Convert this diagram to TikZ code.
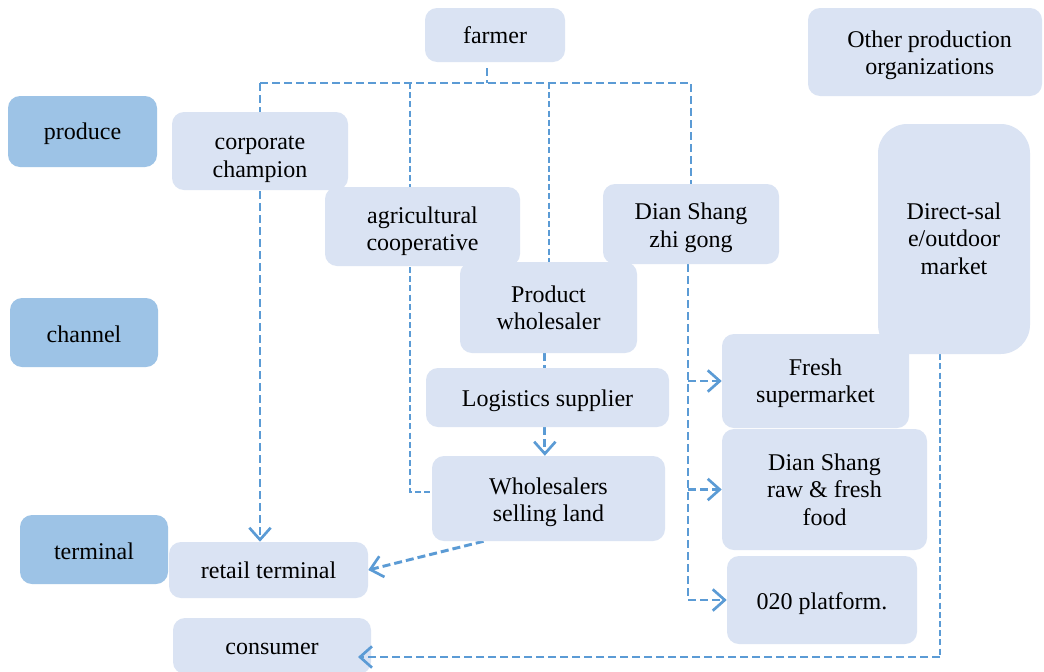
\documentclass[tikz,border=0pt]{standalone}
\usepackage{fontspec}
\setmainfont{Liberation Serif}
\usetikzlibrary{arrows.meta,backgrounds,calc}
\definecolor{lb}{HTML}{DAE3F3}
\definecolor{db}{HTML}{9DC3E6}
\definecolor{ln}{HTML}{5B9BD5}
\newcommand{\tx}[3][0pt]{\raisebox{-#2}[\height][\depth]{\begin{tabular}{@{\hspace{#1}}c@{}}#3\end{tabular}}}
\tikzset{
  box/.style={fill=lb, draw=none, rounded corners=9pt, align=center, inner sep=0pt, font=\fontsize{18}{20.5}\selectfont},
  lab/.style={box, fill=db},
  dl/.style={draw=ln, line width=2.2pt, dash pattern=on 6pt off 3pt},
  dlt/.style={draw=ln, line width=1.6pt, dash pattern=on 4.5pt off 2.4pt},
  tip/.style={-{Straight Barb[length=9pt,width=16pt,line width=2pt]}}
}
\begin{document}
\begin{tikzpicture}[x=0.75pt,y=-0.75pt]
\clip (0,0) rectangle (1044,671);
% left labels
\node[lab, minimum width=111.75pt, minimum height=53.25pt] (produce) at (82.5,131.5) {\tx{2.2pt}{produce}};
\node[lab, minimum width=111pt, minimum height=51.75pt] (channel) at (84,332.5) {\tx{3.5pt}{channel}};
\node[lab, minimum width=111pt, minimum height=51.75pt] (terminal) at (94,549.5) {\tx{3.5pt}{terminal}};
% boxes
\node[box, minimum width=105pt, minimum height=40.5pt] (farmer) at (495,35) {farmer};
\node[box, minimum width=175.5pt, minimum height=66pt] (other) at (925,52) {\tx[7pt]{2.6pt}{Other production\\organizations}};
\node[box, minimum width=132pt, minimum height=58.5pt] (corporate) at (260,151) {\tx{5.2pt}{corporate\\champion}};
\node[box, minimum width=146.25pt, minimum height=59.25pt] (agri) at (422.5,226.5) {\tx{3.7pt}{agricultural\\cooperative}};
\node[box, minimum width=132pt, minimum height=60pt] (zhigong) at (691,224) {\tx{3pt}{Dian Shang\\zhi gong}};
\node[box, minimum width=114pt, minimum height=172.5pt, rounded corners=22pt] (direct) at (954,239) {\tx{1.8pt}{Direct-sal\\e/outdoor\\market}};
\node[box, minimum width=132.75pt, minimum height=68.25pt] (prodwh) at (548.5,307.5) {Product\\wholesaler};
\node[box, minimum width=182.25pt, minimum height=44.25pt] (logistics) at (547.5,397.5) {\tx{3pt}{Logistics supplier}};
\node[box, minimum width=174.75pt, minimum height=63.75pt] (wsl) at (548.5,498.5) {\tx{3pt}{Wholesalers\\selling land}};
\node[box, minimum width=140.25pt, minimum height=70.5pt] (fresh) at (815.5,381) {\tx{1.9pt}{Fresh\\supermarket}};
\node[box, minimum width=153.75pt, minimum height=90.75pt] (dsraw) at (824.5,489.5) {Dian Shang\\raw \& fresh\\food};
\node[box, minimum width=142.5pt, minimum height=66pt] (o2o) at (822,600) {\tx{3pt}{020 platform.}};
\node[box, minimum width=149.25pt, minimum height=42pt] (retail) at (268.5,570) {\tx{2.5pt}{retail terminal}};
\node[box, minimum width=148.5pt, minimum height=42pt] (consumer) at (272,646) {\tx{2.2pt}{consumer}};
% helper coordinates
\coordinate (bus) at (487,83);
\coordinate (ag) at (410,0);
\coordinate (pw) at (549,0);
\coordinate (trunk) at (688,0);
\coordinate (dc) at (940,0);
\coordinate (ce) at (358,657);
\coordinate (agend) at (432,492);
\begin{scope}[on background layer]
\fill[white] (0,0) rectangle (1044,671);
\draw[dl] (farmer.south) ++(-8,6) -- (bus);
\draw[dl] (corporate |- bus) -- (zhigong |- bus) -- (zhigong.north);
\draw[dl,tip] (corporate |- bus) -- (corporate |- retail.north);
\draw[dlt] (ag |- bus) -- (ag |- agend) -- (agend);
\draw[dlt] (pw |- bus) -- (pw |- prodwh.north);
\draw[dl] (trunk |- zhigong.south) -- (trunk |- o2o.west);
\draw[dl,tip] (trunk |- fresh.west) -- (fresh.west);
\draw[dl,tip] (trunk |- dsraw.west) -- (dsraw.west);
\draw[dl,tip] (trunk |- o2o.west) -- (o2o.west);
\draw[dl] ([xshift=-3pt]prodwh.south) -- ([xshift=-3pt]prodwh.south |- logistics.north);
\draw[dl,tip] ([xshift=-2pt]logistics.south) -- ([xshift=-2pt]logistics.south |- wsl.north);
\draw[dl,tip] ($(wsl.south)+(-65,0)$) -- (retail.east);
\draw[dlt] (dc |- direct.south) -- (dc |- ce);
\end{scope}
\draw[dl,tip] (dc |- ce) -- (ce);
\end{tikzpicture}
\end{document}
